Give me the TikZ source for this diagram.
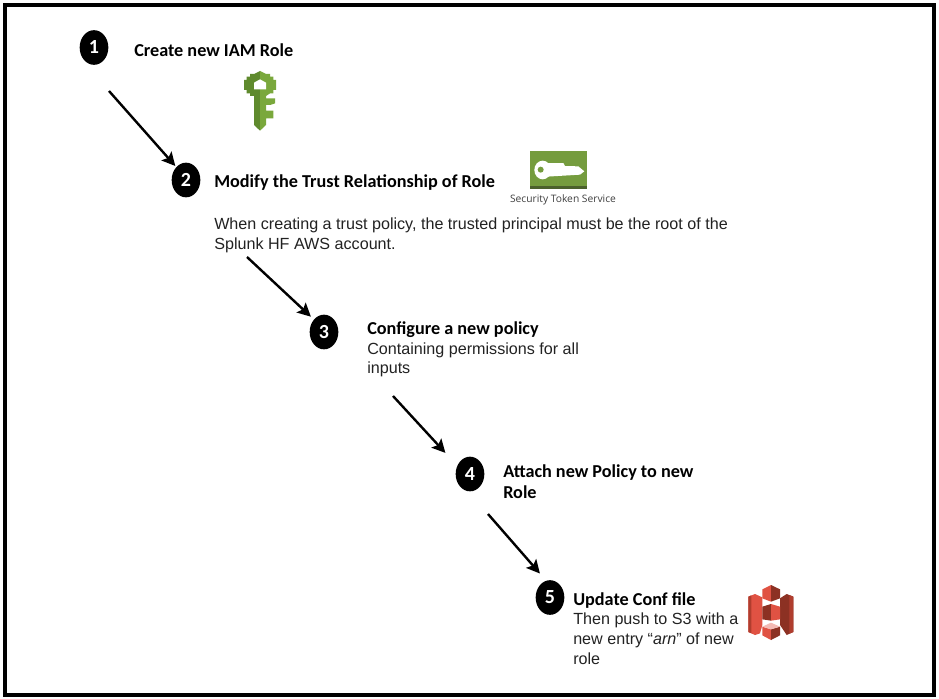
\documentclass[tikz,border=0pt]{standalone}
\usepackage{fontspec}
\usetikzlibrary{arrows.meta,shapes.geometric}
\setmainfont{Liberation Sans}
\newfontfamily\headfont{Carlito}
\newfontfamily\labelfont{Open Sans}
\definecolor{keylight}{HTML}{7AA83C}
\definecolor{keydark}{HTML}{5F8A2D}
\definecolor{stsgreen}{HTML}{759C3E}
\definecolor{stsdark}{HTML}{4B612C}
\definecolor{bucketred}{HTML}{E05243}
\definecolor{bucketmid}{HTML}{B03D2E}
\definecolor{bucketdark}{HTML}{8C3123}
\definecolor{bodytext}{HTML}{222222}
\tikzset{
  stepnum/.style={ellipse,fill=black,text=white,minimum width=21.5pt,minimum height=26pt,inner sep=0pt,font=\headfont\fontsize{15pt}{16pt}\selectfont\bfseries},
  heading/.style={anchor=base west,inner sep=0pt,font=\headfont\fontsize{13.65pt}{14.6pt}\selectfont\bfseries},
  body/.style={anchor=base west,inner sep=0pt,text=bodytext,font=\fontsize{12.1pt}{14.6pt}\selectfont},
  flow/.style={-{Stealth[length=10pt,width=10pt,inset=2pt]},line width=1.8pt,black}
}
\begin{document}
\begin{tikzpicture}[x=0.75pt,y=-0.75pt]
    \useasboundingbox (0,0) rectangle (939,699);
    \fill[white] (0,0) rectangle (939,699);
    \draw[line width=3pt] (4.5,5) rectangle (933.5,695);

    \node[stepnum] (one) at (94,47.5) {1};
    \node[stepnum] (two) at (186,180) {2};
    \node[stepnum] (three) at (324,332) {3};
    \node[stepnum] (four) at (470,474) {4};
    \node[stepnum] (five) at (550,597.5) {5};

    \node[heading] (createrole) at (134,57) {Create new IAM Role};
    \node[heading] (modifytrust) at (214,187) {Modify the Trust Relationship of Role};
    \node[body] (trustone) at (214,229) {When creating a trust policy, the trusted principal must be the root of the};
    \node[body] (trusttwo) at (214,249) {Splunk HF AWS account.};
    \node[heading] (configpolicy) at (367,334) {Configure a new policy};
    \node[body] (permone) at (367,354) {Containing permissions for all};
    \node[body] (permtwo) at (367,373) {inputs};
    \node[heading] (attachone) at (503,477) {Attach new Policy to new};
    \node[heading] (attachtwo) at (503,498) {Role};
    \node[heading] (updateconf) at (573,605) {Update Conf file};
    \node[body] (pushone) at (573,624) {Then push to S3 with a};
    \node[body] (pushtwo) at (573,644) {new entry ``\textit{arn}'' of new};
    \node[body] (pushthree) at (573,664) {role};
    \node[anchor=base,inner sep=0pt,text=black!75,font=\labelfont\fontsize{7.7pt}{8pt}\selectfont] (ststext) at (563,202) {Security Token Service};

    \coordinate (startone) at (109,91);
    \coordinate (starttwo) at (247,257);
    \coordinate (startthree) at (393,396);
    \coordinate (startfour) at (488,514);
    \draw[flow,shorten >=1pt] (startone) -- (two.127);
    \draw[flow,shorten >=3pt] (starttwo) -- (three.129);
    \draw[flow,shorten >=13pt] (startthree) -- (four.147);
    \draw[flow,shorten >=7pt] (startfour) -- (five.103);

    % key icon
    \begin{scope}[shift={(240,70)},x=0.25pt,y=-0.25pt]
      \fill[keydark] (60,3) -- (42,12) -- (30,12) -- (30,20) -- (20,20) -- (20,30) -- (12,30) -- (12,60) -- (20,60) -- (20,70) -- (30,70) -- (30,78) -- (42,78) -- (42,165) -- (60,182) -- cycle;
      \fill[keylight] (60,3) -- (78,12) -- (90,12) -- (90,20) -- (100,20) -- (100,30) -- (108,30) -- (108,60) -- (100,60) -- (100,70) -- (90,70) -- (78,78) -- (78,85) -- (105,85) -- (105,100) -- (90,105) -- (78,105) -- (78,122) -- (100,122) -- (100,145) -- (78,145) -- (78,165) -- (60,182) -- cycle;
      \fill[white] (60,28) -- (78,38) -- (78,58) -- (42,58) -- (42,38) -- cycle;
    \end{scope}

    % sts icon
    \fill[stsgreen] (530,151) rectangle (587,189);
    \fill[stsdark] (530,185.5) rectangle (587,189);
    \begin{scope}[shift={(525,148)},x=0.25pt,y=-0.25pt]
      \fill[white] (53,66) ellipse[x radius=25,y radius=28];
      \fill[white] (65,45) -- (115,45) -- (120,54) -- (160,55) -- (178,70) -- (165,80) -- (65,86) -- cycle;
      \fill[stsgreen] (47,65) circle[radius=9];
    \end{scope}

    % s3 icon
    \begin{scope}[shift={(730,570)},x=0.25pt,y=-0.25pt]
      \fill[bucketred] (55,80) -- (75,72) -- (97,82) -- (97,165) -- (90,190) -- (75,195) -- (55,186) -- cycle;
      \fill[bucketmid] (55,80) -- (64,76) -- (64,190) -- (55,186) -- cycle;
      \fill[bucketdark] (150,85) -- (170,72) -- (190,80) -- (190,186) -- (170,195) -- (150,165) -- cycle;
      \fill[bucketmid] (178,75) -- (190,80) -- (190,186) -- (178,191) -- cycle;
      \fill[bucketred] (97,58) -- (123,45) -- (123,95) -- (97,85) -- cycle;
      \fill[bucketdark] (123,45) -- (150,58) -- (150,85) -- (123,95) -- cycle;
      \fill[bucketdark] (97,110) -- (123,102) -- (123,152) -- (97,148) -- cycle;
      \fill[bucketred] (123,102) -- (150,110) -- (150,148) -- (123,152) -- cycle;
      \fill[bucketred] (97,170) -- (123,178) -- (123,210) -- (97,196) -- cycle;
      \fill[bucketdark] (123,178) -- (150,170) -- (150,196) -- (123,210) -- cycle;
      \fill[bucketred!40] (97,170) -- (123,158) -- (150,170) -- (123,178) -- cycle;
    \end{scope}
\end{tikzpicture}
\end{document}
